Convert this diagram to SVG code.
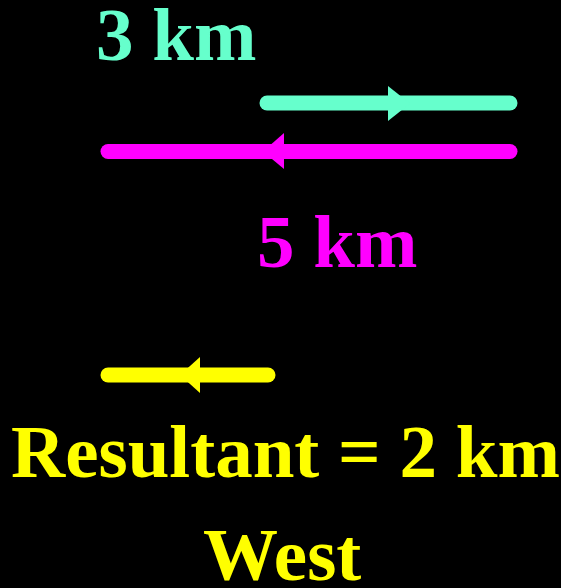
<svg xmlns="http://www.w3.org/2000/svg" width="561" height="588" viewBox="0 0 561 588">
<style>
text{font-family:"Liberation Serif","Times New Roman",serif;font-weight:bold;font-size:75px}
.ln{stroke-width:15;stroke-linecap:round;fill:none}
</style>
<rect width="561" height="588" fill="#000"/>
<g id="connectors">
<g id="v3">
<line class="ln" x1="267" y1="103" x2="510" y2="103" stroke="#66FFCC"/>
<polygon points="388,86 410,103.5 388,121" fill="#66FFCC"/>
</g>
<g id="v5">
<line class="ln" x1="108" y1="151.5" x2="510" y2="151.5" stroke="#FF00FF"/>
<polygon points="284,133 263,151.5 284,169" fill="#FF00FF"/>
</g>
<g id="vr">
<line class="ln" x1="108" y1="375" x2="268" y2="375" stroke="#FFFF00"/>
<polygon points="200,357 180,375 200,393" fill="#FFFF00"/>
</g>
</g>
<g id="label3"><text x="96" y="60" fill="#66FFCC">3 km</text></g>
<g id="label5"><text x="257" y="267" fill="#FF00FF">5 km</text></g>
<g id="result"><text x="11" y="477" fill="#FFFF00">Resultant = 2 km</text></g>
<g id="west"><text x="203" y="580" fill="#FFFF00">West</text></g>
</svg>
